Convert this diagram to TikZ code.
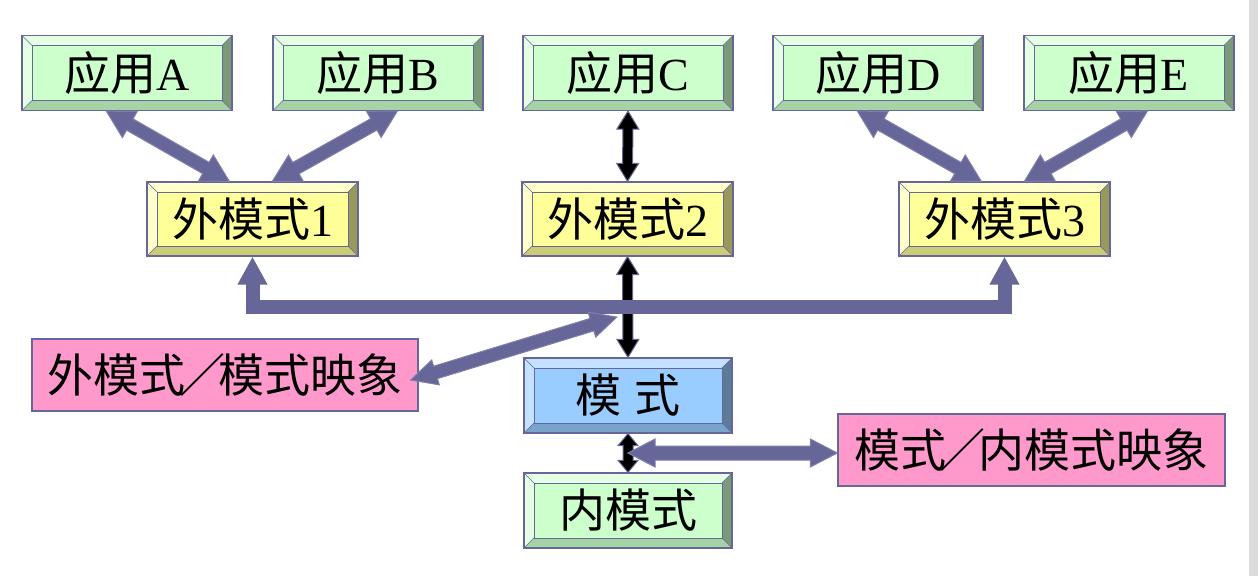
\documentclass[tikz,border=0pt]{standalone}
\usepackage{fontspec}
\setmainfont{Liberation Serif}
\newfontfamily\cjk{Noto Sans CJK SC}
\usetikzlibrary{calc,arrows.meta}
\definecolor{bord}{HTML}{666699}
\definecolor{arr}{HTML}{666699}
\definecolor{arredge}{HTML}{8080AA}
\definecolor{gface}{HTML}{CCFFCC}
\definecolor{gtop}{HTML}{E4FFE4}
\definecolor{gright}{HTML}{7A9A7A}
\definecolor{gbot}{HTML}{A6D3A6}
\definecolor{yface}{HTML}{FFFF99}
\definecolor{ytop}{HTML}{FFFFCC}
\definecolor{yright}{HTML}{99995C}
\definecolor{ybot}{HTML}{CCCC77}
\definecolor{bface}{HTML}{99CCFF}
\definecolor{btop}{HTML}{C4E2FF}
\definecolor{bright}{HTML}{5C7A99}
\definecolor{bbot}{HTML}{7AA3CC}
\definecolor{pface}{HTML}{FF99CC}
\newcommand\dblarr[7]{%
\filldraw[fill=#6,draw=#7,line width=1pt,line join=miter]
 (#1) -- ($(#1)!#5!(#2)!#4!90:(#2)$) -- ($(#1)!#5!(#2)!#3!90:(#2)$)
 -- ($(#2)!#5!(#1)!#3!-90:(#1)$) -- ($(#2)!#5!(#1)!#4!-90:(#1)$) -- (#2)
 -- ($(#2)!#5!(#1)!#4!90:(#1)$) -- ($(#2)!#5!(#1)!#3!90:(#1)$)
 -- ($(#1)!#5!(#2)!#3!-90:(#2)$) -- ($(#1)!#5!(#2)!#4!-90:(#2)$) -- cycle;}
\tikzset{
 bevel/.style n args={4}{draw=bord, line width=1.3pt, fill=#1,
  minimum width=210pt, minimum height=75pt, inner sep=0pt,
  font=\fontsize{46}{50}\selectfont,
  path picture={
   \fill[#2] (path picture bounding box.north west) -- (path picture bounding box.north east)
     -- ([shift={(-10pt,-10pt)}]path picture bounding box.north east) -- ([shift={(10pt,-10pt)}]path picture bounding box.north west) -- cycle;
   \fill[#2] (path picture bounding box.north west) -- (path picture bounding box.south west)
     -- ([shift={(10pt,10pt)}]path picture bounding box.south west) -- ([shift={(10pt,-10pt)}]path picture bounding box.north west) -- cycle;
   \fill[#3] (path picture bounding box.north east) -- (path picture bounding box.south east)
     -- ([shift={(-10pt,10pt)}]path picture bounding box.south east) -- ([shift={(-10pt,-10pt)}]path picture bounding box.north east) -- cycle;
   \fill[#4] (path picture bounding box.south west) -- (path picture bounding box.south east)
     -- ([shift={(-10pt,10pt)}]path picture bounding box.south east) -- ([shift={(10pt,10pt)}]path picture bounding box.south west) -- cycle;
   \draw[bord,line width=0.8pt] ([shift={(10pt,-10pt)}]path picture bounding box.north west) rectangle ([shift={(-10pt,10pt)}]path picture bounding box.south east);
   \draw[bord,line width=0.6pt] (path picture bounding box.north west) -- ([shift={(10pt,-10pt)}]path picture bounding box.north west)
     (path picture bounding box.north east) -- ([shift={(-10pt,-10pt)}]path picture bounding box.north east)
     (path picture bounding box.south east) -- ([shift={(-10pt,10pt)}]path picture bounding box.south east)
     (path picture bounding box.south west) -- ([shift={(10pt,10pt)}]path picture bounding box.south west);
  }},
 gbox/.style={bevel={gface}{gtop}{gright}{gbot}},
 ybox/.style={bevel={yface}{ytop}{yright}{ybot}, minimum width=211pt, minimum height=74pt},
 bbox/.style={bevel={bface}{btop}{bright}{bbot}, minimum width=208pt, minimum height=75pt},
 pbox/.style={draw=bord, line width=1.3pt, fill=pface, minimum height=72pt, inner sep=0pt,
  font=\fontsize{46}{50}\selectfont},
}
\begin{document}
\begin{tikzpicture}[x=1pt,y=-1pt]
\useasboundingbox (0,0) rectangle (1258,576);
\fill[white] (0,0) rectangle (1258,576);
\fill[black!14] (1249,0) rectangle (1258,576);
% nodes
\node[gbox] (A) at (127,73) {{\cjk 应用}A};
\node[gbox] (B) at (378,73) {{\cjk 应用}B};
\node[gbox] (C) at (628,73) {{\cjk 应用}C};
\node[gbox] (D) at (878,73) {{\cjk 应用}D};
\node[gbox] (E) at (1129,73) {{\cjk 应用}E};
\node[ybox] (X1) at (252.5,219) {{\cjk 外模式}1};
\node[ybox] (X2) at (627.5,219) {{\cjk 外模式}2};
\node[ybox] (X3) at (1004.5,219) {{\cjk 外模式}3};
\node[bbox] (S) at (628,395.5) {\cjk 模\hspace{0.3em}式};
\node[gbox, minimum width=208pt] (I) at (628,510.5) {\cjk 内模式};
\node[pbox, minimum width=386pt] (M1) at (225,375) {\cjk 外模式\kern-0.15em／\kern-0.15em模式映象};
\node[pbox, minimum width=387pt] (M2) at (1031.5,450) {\cjk 模式\kern-0.15em／\kern-0.15em内模式映象};
% connector end points
\coordinate (a1) at ([xshift=85pt]A.south west);
\coordinate (x1a) at ([xshift=83pt]X1.north west);
\coordinate (b1) at ([xshift=125pt]B.south west);
\coordinate (x1b) at ([xshift=126pt]X1.north west);
\coordinate (d1) at ([xshift=85pt]D.south west);
\coordinate (x3d) at ([xshift=83pt]X3.north west);
\coordinate (e1) at ([xshift=124pt]E.south west);
\coordinate (x3e) at ([xshift=126pt]X3.north west);
\coordinate (bus) at ($(X2.south)!0.5!(S.north)$);
\coordinate (si) at ($(S.south)!0.5!(I.north)$);
\coordinate (m2in) at ([yshift=-3pt]M2.west);
\coordinate (m1in) at ([shift={(-8pt,-5pt)}]M1.east);
\coordinate (mx) at ([xshift=-11pt]$(X2.south)!0.6!(S.north)$);
\coordinate (c1) at (C.south);
\coordinate (x2c) at (X2.north);
\coordinate (x2s) at (X2.south);
\coordinate (sn) at (S.north);
\coordinate (ss) at (S.south);
\coordinate (in) at (I.north);
% diagonal arrows
\dblarr{a1}{x1a}{6.5pt}{15pt}{27pt}{arr}{arredge}
\dblarr{b1}{x1b}{6.5pt}{15pt}{27pt}{arr}{arredge}
\dblarr{d1}{x3d}{6.5pt}{15pt}{27pt}{arr}{arredge}
\dblarr{e1}{x3e}{6.5pt}{15pt}{27pt}{arr}{arredge}
% black vertical arrows
\dblarr{c1}{x2c}{5pt}{11pt}{18pt}{black}{bord}
\dblarr{x2s}{sn}{5pt}{11pt}{18pt}{black}{bord}
\dblarr{ss}{in}{5pt}{10pt}{12pt}{black}{bord}
% bus
\draw[arr, line width=14pt, line join=miter,
  {Triangle[width=28pt,length=28pt]}-{Triangle[width=28pt,length=28pt]}]
  (X1.south) |- (bus) -| (X3.south);
% mapping arrows
\dblarr{m1in}{mx}{6.5pt}{13pt}{26pt}{arr}{arredge}
\dblarr{si}{m2in}{7pt}{14pt}{27pt}{arr}{arredge}
\end{tikzpicture}
\end{document}
